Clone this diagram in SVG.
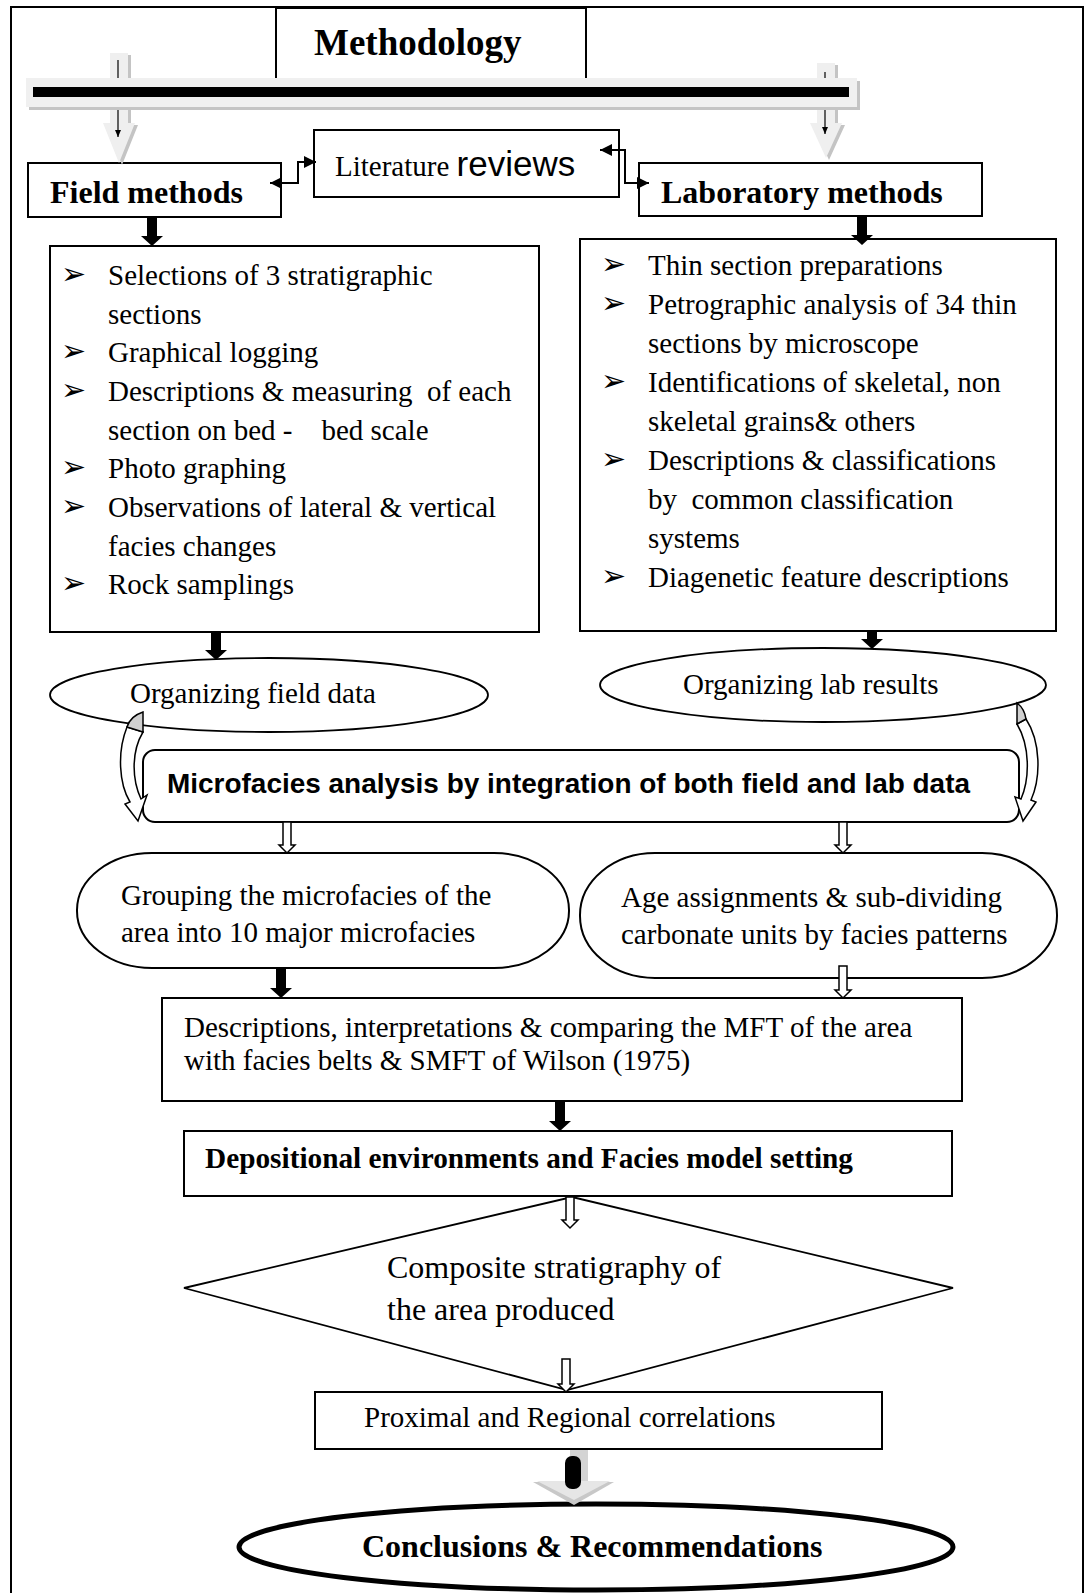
<svg xmlns="http://www.w3.org/2000/svg" width="1086" height="1593" viewBox="0 0 1086 1593">
<defs>
<style>
.box{fill:#fff;stroke:#000;stroke-width:2}
.t{font-family:"Liberation Serif","Times New Roman",serif;font-size:29px;fill:#000}
.b{font-weight:bold}
.s{font-family:"Liberation Sans",Arial,sans-serif}
.bul{font-family:"DejaVu Sans",sans-serif;font-size:30px;fill:#000}
.blk{fill:#000}
.hol{fill:#fff;stroke:#000;stroke-width:1.5}
.conn{fill:none;stroke:#000;stroke-width:2}
.thin{fill:none;stroke:#000;stroke-width:1.2}
.gshadow{fill:#c4c4c4}
.glight{fill:#efefef}
.curv{fill:#fff;stroke:#000;stroke-width:1.5}
.curvg{fill:#d0d0d0;stroke:#000;stroke-width:1.5}
</style>
<marker id="ah" markerUnits="userSpaceOnUse" markerWidth="14" markerHeight="14" refX="12" refY="6" orient="auto-start-reverse">
<path d="M0,0 L12,6 L0,12 Z" fill="#000"/>
</marker>
<marker id="ahs" markerUnits="userSpaceOnUse" markerWidth="8" markerHeight="8" refX="7" refY="3" orient="auto">
<path d="M0,0 L7,3 L0,6 Z" fill="#000"/>
</marker>
</defs>

<g id="frame">
<path d="M11,1593 V7 H1083 V1593" fill="none" stroke="#000" stroke-width="2"/>
</g>

<g id="methodology">
<rect class="box" x="276" y="8" width="310" height="72"/>
<text class="t b" x="314" y="55" style="font-size:37px">Methodology</text>
</g>

<g id="literature">
<rect class="box" x="314" y="130" width="305" height="67"/>
<text class="t" x="335" y="176">Literature <tspan class="s" style="font-size:35px">reviews</tspan></text>
</g>

<g id="field-methods">
<rect class="box" x="28" y="163" width="253" height="54"/>
<text class="t b" x="50" y="203" style="font-size:32px">Field methods</text>
</g>

<g id="lab-methods">
<rect class="box" x="639" y="163" width="343" height="53"/>
<text class="t b" x="661" y="203" style="font-size:32px">Laboratory methods</text>
</g>

<g id="field-list">
<rect class="box" x="50" y="246" width="489" height="386"/>
<text class="bul" x="61" y="284">➢</text>
<text class="t" x="108" y="285">Selections of 3 stratigraphic</text>
<text class="t" x="108" y="324">sections</text>
<text class="bul" x="61" y="361">➢</text>
<text class="t" x="108" y="362">Graphical logging</text>
<text class="bul" x="61" y="400">➢</text>
<text class="t" x="108" y="401" xml:space="preserve">Descriptions &amp; measuring  of each</text>
<text class="t" x="108" y="440" xml:space="preserve">section on bed -    bed scale</text>
<text class="bul" x="61" y="477">➢</text>
<text class="t" x="108" y="478">Photo graphing</text>
<text class="bul" x="61" y="516">➢</text>
<text class="t" x="108" y="517">Observations of lateral &amp; vertical</text>
<text class="t" x="108" y="556">facies changes</text>
<text class="bul" x="61" y="593">➢</text>
<text class="t" x="108" y="594">Rock samplings</text>
</g>

<g id="lab-list">
<rect class="box" x="580" y="239" width="476" height="392"/>
<text class="bul" x="601" y="274">➢</text>
<text class="t" x="648" y="275">Thin section preparations</text>
<text class="bul" x="601" y="313">➢</text>
<text class="t" x="648" y="314">Petrographic analysis of 34 thin</text>
<text class="t" x="648" y="353">sections by microscope</text>
<text class="bul" x="601" y="391">➢</text>
<text class="t" x="648" y="392">Identifications of skeletal, non</text>
<text class="t" x="648" y="431">skeletal grains&amp; others</text>
<text class="bul" x="601" y="469">➢</text>
<text class="t" x="648" y="470">Descriptions &amp; classifications</text>
<text class="t" x="648" y="509" xml:space="preserve">by  common classification</text>
<text class="t" x="648" y="548">systems</text>
<text class="bul" x="601" y="586">➢</text>
<text class="t" x="648" y="587">Diagenetic feature descriptions</text>
</g>

<g id="org-field">
<ellipse class="box" cx="269" cy="695" rx="219" ry="37" style="stroke-width:1.8"/>
<text class="t" x="130" y="703">Organizing field data</text>
</g>

<g id="org-lab">
<ellipse class="box" cx="823" cy="685" rx="223" ry="37" style="stroke-width:1.8"/>
<text class="t" x="683" y="694">Organizing lab results</text>
</g>

<g id="microfacies">
<rect class="box" x="143" y="750" width="876" height="72" rx="12" ry="12"/>
<text class="t s b" x="167" y="793" style="font-size:27px" textLength="803" lengthAdjust="spacingAndGlyphs">Microfacies analysis by integration of both field and lab data</text>
</g>

<g id="grouping">
<rect class="box" x="77" y="853" width="492" height="115" rx="75" ry="57"/>
<text class="t" x="121" y="905">Grouping the microfacies of the</text>
<text class="t" x="121" y="942">area into 10 major microfacies</text>
</g>

<g id="age">
<rect class="box" x="580" y="853" width="477" height="125" rx="75" ry="62"/>
<text class="t" x="621" y="907">Age assignments &amp; sub-dividing</text>
<text class="t" x="621" y="944">carbonate units by facies patterns</text>
</g>

<g id="descriptions">
<rect class="box" x="162" y="998" width="800" height="103"/>
<text class="t" x="184" y="1037">Descriptions, interpretations &amp; comparing the MFT of the area</text>
<text class="t" x="184" y="1070">with facies belts &amp; SMFT of Wilson (1975)</text>
</g>

<g id="depositional">
<rect class="box" x="184" y="1131" width="768" height="65"/>
<text class="t b" x="205" y="1168" style="font-size:29px" textLength="648" lengthAdjust="spacingAndGlyphs">Depositional environments and Facies model setting</text>
</g>

<g id="composite">
<polygon class="box" points="572,1197 953,1288 567,1390 184,1288" style="stroke-width:1.8"/>
<text class="t" x="387" y="1278" style="font-size:32px">Composite stratigraphy of</text>
<text class="t" x="387" y="1320" style="font-size:32px">the area produced</text>
</g>

<g id="correlations">
<rect class="box" x="315" y="1392" width="567" height="57"/>
<text class="t" x="364" y="1427">Proximal and Regional correlations</text>
</g>

<g id="conclusions">
<ellipse cx="596" cy="1547" rx="357" ry="43" fill="#fff" stroke="#000" stroke-width="5"/>
<text class="t b" x="362" y="1557" style="font-size:32px">Conclusions &amp; Recommendations</text>
</g>

<g id="connectors">
<path class="gshadow" d="M113,55 H131 V125 H138 L122,165 L106,125 H113 Z"/>
<path class="glight" d="M110,53 H128 V123 H135 L119,163 L103,123 H110 Z"/>
<path class="gshadow" d="M820,65 H838 V125 H845 L829,160 L813,125 H820 Z"/>
<path class="glight" d="M817,63 H835 V123 H842 L826,158 L810,123 H817 Z"/>
<line class="thin" x1="118" y1="60" x2="118" y2="137" marker-end="url(#ahs)"/>
<line class="thin" x1="825" y1="72" x2="825" y2="134" marker-end="url(#ahs)"/>
<rect x="29" y="81" width="831" height="29" fill="#c4c4c4"/>
<rect x="26" y="78" width="831" height="29" fill="#f0f0f0"/>
<rect x="33" y="87" width="816" height="10" fill="#000"/>
<path class="conn" d="M270,183 H298 V162 H316" marker-start="url(#ah)" marker-end="url(#ah)"/>
<path class="conn" d="M600,150 H625 V183 H649" marker-start="url(#ah)" marker-end="url(#ah)"/>
<path class="blk" d="M147,217 H157 V236 H163 L152,246 L141,236 H147 Z"/>
<path class="blk" d="M857,215 H867 V235 H873 L862,245 L851,235 H857 Z"/>
<path class="blk" d="M211,632 H221 V650 H227 L216,660 L205,650 H211 Z"/>
<path class="blk" d="M867,631 H877 V639 H883 L872,649 L861,639 H867 Z"/>
<path class="blk" d="M276,968 H286 V988 H292 L281,998 L270,988 H276 Z"/>
<path class="blk" d="M555,1101 H565 V1121 H571 L560,1131 L549,1121 H555 Z"/>
<path class="hol" d="M283,822 H291 V845 H295 L287,853 L279,845 H283 Z"/>
<path class="hol" d="M839,822 H847 V845 H851 L843,853 L835,845 H839 Z"/>
<path class="hol" d="M839,966 H847 V990 H851 L843,998 L835,990 H839 Z"/>
<path class="hol" d="M566,1197 H574 V1220 H578 L570,1228 L562,1220 H566 Z"/>
<path class="hol" d="M562,1359 H570 V1384 H574 L566,1392 L558,1384 H562 Z"/>
<path class="curv" d="M127,727 C117,752 119,784 130,802 L125,804 L138,821 L147,795 L141,799 C132,780 131,752 143,732 Z"/>
<path class="curvg" d="M143,712 L143,732 L127,727 C129,720 134,715 143,712 Z"/>
<path class="curv" d="M1026,719 C1041,742 1041,778 1031,800 L1036,802 L1023,821 L1015,797 L1021,799 C1030,778 1030,746 1017,724 Z"/>
<path class="curvg" d="M1017,703 C1021,706 1025,712 1026,719 L1017,724 Z"/>
<rect x="570" y="1450" width="18" height="36" fill="#d4d4d4"/>
<polygon points="533,1482 614,1482 574,1505" fill="#c8c8c8"/>
<polygon points="537,1481 610,1481 574,1500" fill="#e6e6e6"/>
<rect x="565" y="1456" width="16" height="33" rx="7" ry="7" fill="#000"/>
</g>
</svg>
